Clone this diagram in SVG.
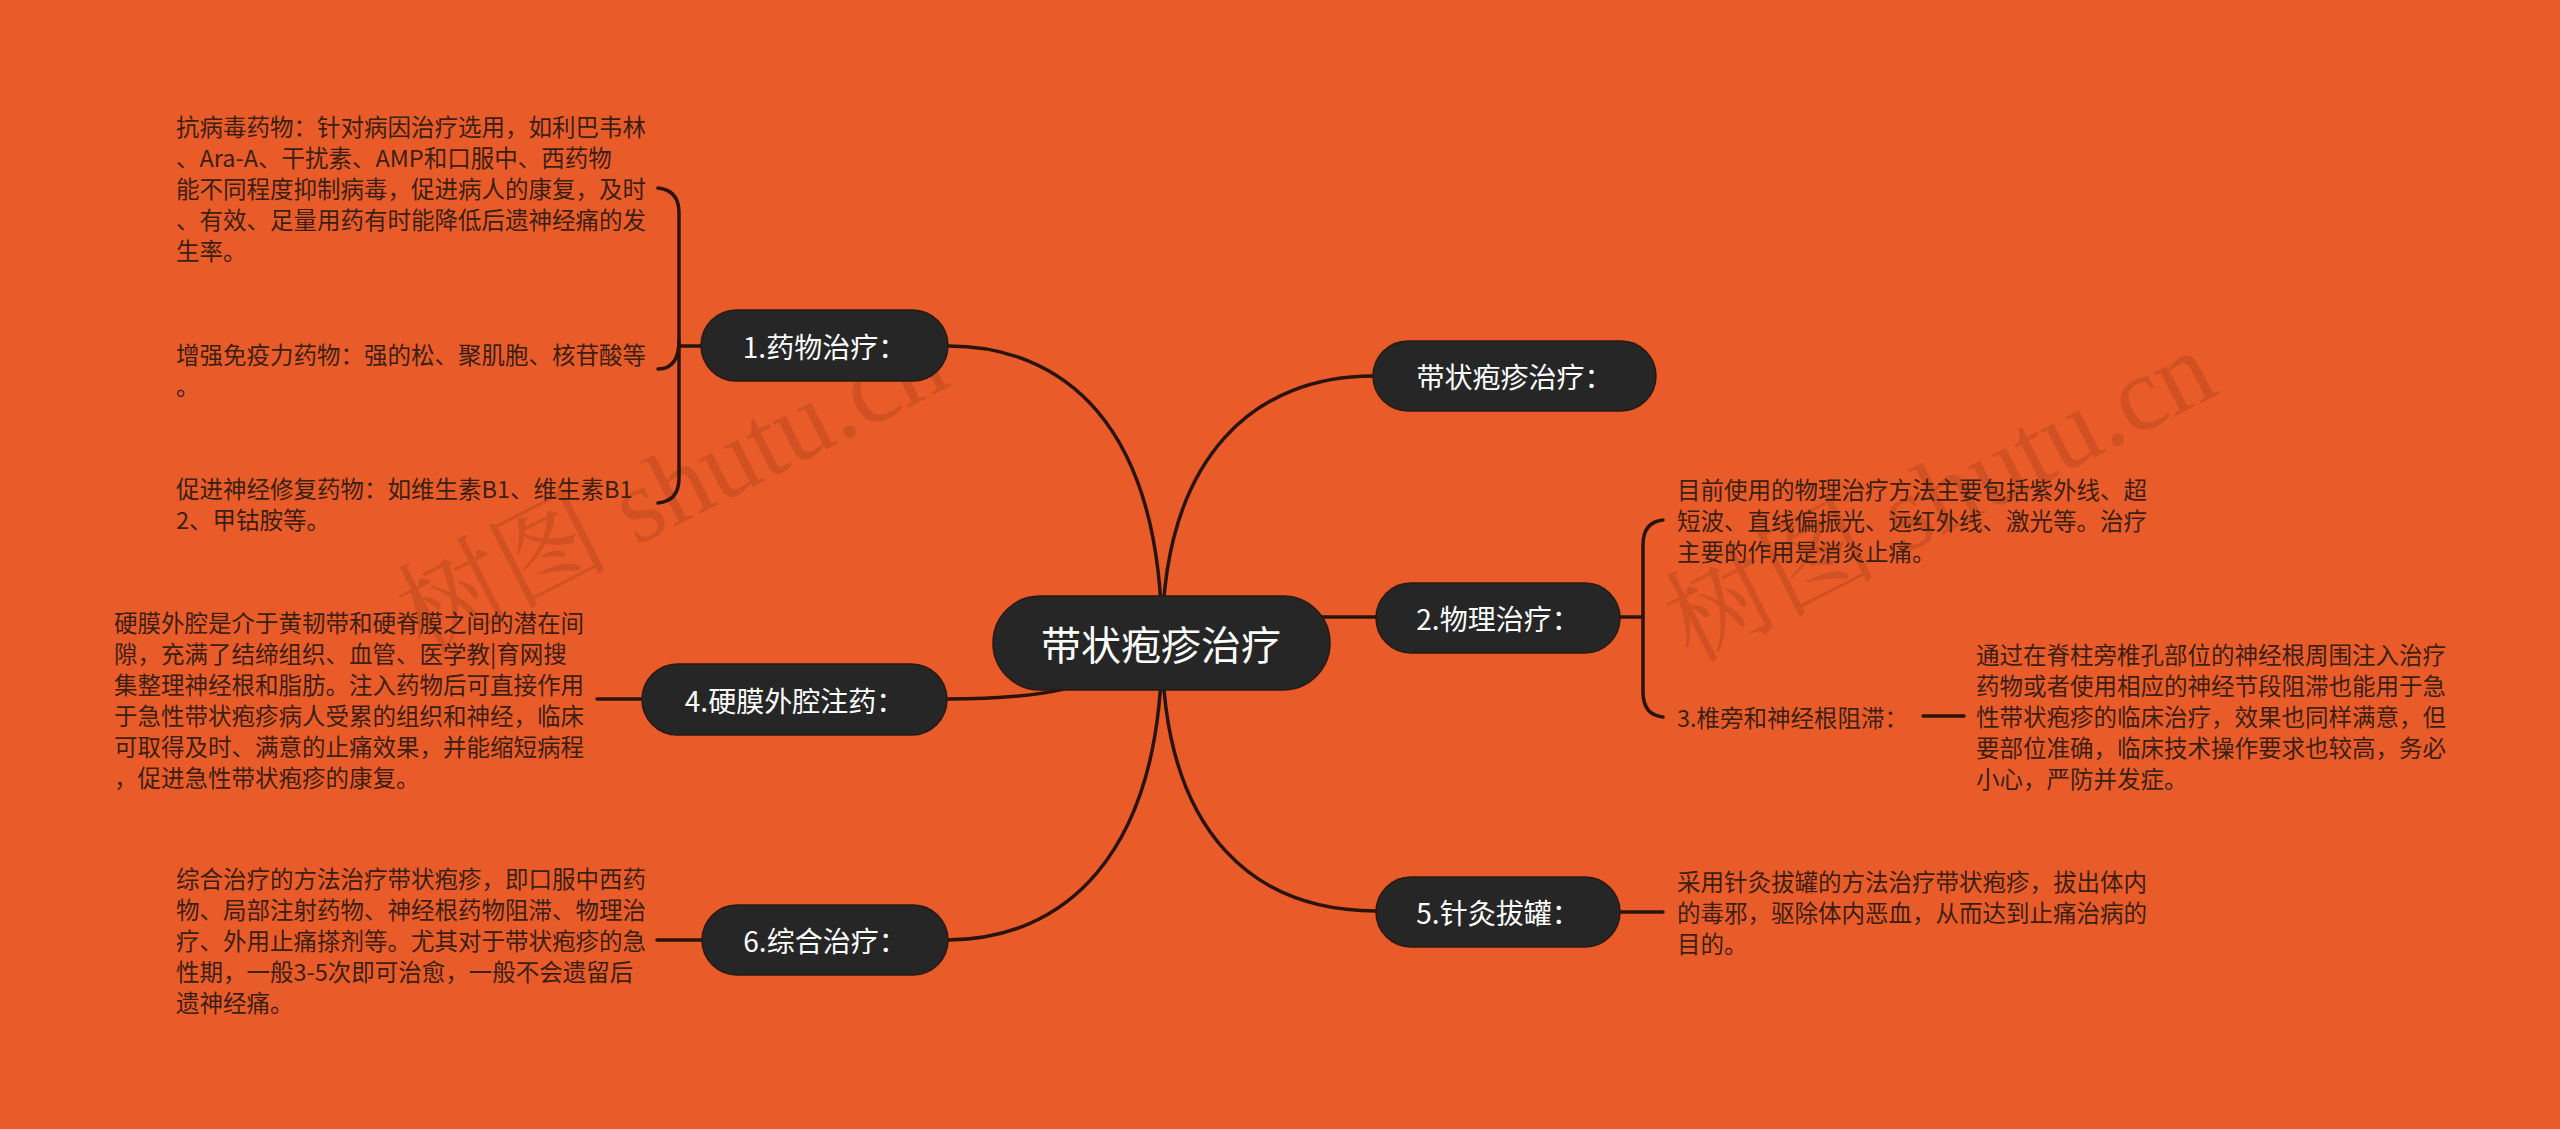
<svg xmlns="http://www.w3.org/2000/svg" width="2560" height="1129" viewBox="0 0 2560 1129">
<style>
.bg{fill:#E95C29}
.node{fill:#262626;stroke:#2a1a12;stroke-width:1.5}
.nt{font-family:"Noto Sans CJK SC","Noto Sans",sans-serif;font-size:28px;fill:#ffffff;text-anchor:middle;dominant-baseline:central}
.ct{font-family:"Noto Sans CJK SC","Noto Sans",sans-serif;font-size:40px;fill:#ffffff;text-anchor:middle;dominant-baseline:central}
.tx{font-family:"Noto Sans CJK SC","Noto Sans",sans-serif;font-size:23.5px;fill:#3b1f12;dominant-baseline:central}
.ln{fill:none;stroke:#2a140a;stroke-width:3.5;stroke-linecap:round}
.wm{font-family:"Liberation Serif","Noto Serif CJK SC","Noto Sans CJK SC",serif;font-size:106px;fill:#9a3512;opacity:0.28}
</style>
<rect class="bg" x="0" y="0" width="2560" height="1129"/>
<g id="watermarks">
<text class="wm" transform="translate(672,488) rotate(-27)" text-anchor="middle" dominant-baseline="central">树图 shutu.cn</text>
<text class="wm" transform="translate(1940,496) rotate(-27)" text-anchor="middle" dominant-baseline="central">树图 shutu.cn</text>
</g>
<g id="connectors">
<path class="ln" d="M1162,643 C1162,420 1060,346 948,346"/>
<path class="ln" d="M1162,643 C1162,450 1260,376 1373,376"/>
<path class="ln" d="M1162,617 H1376"/>
<path class="ln" d="M1162,643 C1100,690 1040,699 947,699"/>
<path class="ln" d="M1162,643 C1162,860 1060,940 947,940"/>
<path class="ln" d="M1162,643 C1162,840 1260,911 1376,911"/>
<path class="ln" d="M658,188 Q679,190 679,213 L679,478 Q679,501 658,503"/>
<path class="ln" d="M679,340 Q679,369 658,369"/>
<path class="ln" d="M679,346 H702"/>
<path class="ln" d="M597,699 H642"/>
<path class="ln" d="M657,940 H702"/>
<path class="ln" d="M1663,520 Q1643,522 1643,545 L1643,692 Q1643,715 1663,717"/>
<path class="ln" d="M1620,617 H1643"/>
<path class="ln" d="M1923,716 H1964"/>
<path class="ln" d="M1620,912 H1663"/>
</g>
<g id="center">
<rect class="node" x="993" y="596" width="337" height="94" rx="47"/>
<text class="ct" x="1161" y="643">带状疱疹治疗</text>
</g>
<g id="n1">
<rect class="node" x="701" y="310" width="247" height="71" rx="35.5"/>
<text class="nt" x="824.5" y="345.5">1.药物治疗：</text>
</g>
<g id="n0">
<rect class="node" x="1373" y="341" width="283" height="70" rx="35"/>
<text class="nt" x="1514.5" y="376">带状疱疹治疗：</text>
</g>
<g id="n2">
<rect class="node" x="1376" y="583" width="244" height="70" rx="35"/>
<text class="nt" x="1498" y="618">2.物理治疗：</text>
</g>
<g id="n4">
<rect class="node" x="642" y="664" width="305" height="71" rx="35.5"/>
<text class="nt" x="794.5" y="699.5">4.硬膜外腔注药：</text>
</g>
<g id="n5">
<rect class="node" x="1376" y="877" width="244" height="70" rx="35"/>
<text class="nt" x="1498" y="912">5.针灸拔罐：</text>
</g>
<g id="n6">
<rect class="node" x="702" y="905" width="246" height="70" rx="35"/>
<text class="nt" x="825" y="940">6.综合治疗：</text>
</g>
<g id="t1a">
<text class="tx" x="176" y="126">抗病毒药物：针对病因治疗选用，如利巴韦林</text>
<text class="tx" x="176" y="157">、Ara-A、干扰素、AMP和口服中、西药物</text>
<text class="tx" x="176" y="188">能不同程度抑制病毒，促进病人的康复，及时</text>
<text class="tx" x="176" y="219">、有效、足量用药有时能降低后遗神经痛的发</text>
<text class="tx" x="176" y="250">生率。</text>
</g>
<g id="t1b">
<text class="tx" x="176" y="353.5">增强免疫力药物：强的松、聚肌胞、核苷酸等</text>
<text class="tx" x="176" y="384.5">。</text>
</g>
<g id="t1c">
<text class="tx" x="176" y="487.5">促进神经修复药物：如维生素B1、维生素B1</text>
<text class="tx" x="176" y="518.5">2、甲钴胺等。</text>
</g>
<g id="t4">
<text class="tx" x="114" y="621.5">硬膜外腔是介于黄韧带和硬脊膜之间的潜在间</text>
<text class="tx" x="114" y="652.5">隙，充满了结缔组织、血管、医学教|育网搜</text>
<text class="tx" x="114" y="683.5">集整理神经根和脂肪。注入药物后可直接作用</text>
<text class="tx" x="114" y="714.5">于急性带状疱疹病人受累的组织和神经，临床</text>
<text class="tx" x="114" y="745.5">可取得及时、满意的止痛效果，并能缩短病程</text>
<text class="tx" x="114" y="776.5">，促进急性带状疱疹的康复。</text>
</g>
<g id="t6">
<text class="tx" x="176" y="878">综合治疗的方法治疗带状疱疹，即口服中西药</text>
<text class="tx" x="176" y="909">物、局部注射药物、神经根药物阻滞、物理治</text>
<text class="tx" x="176" y="940">疗、外用止痛搽剂等。尤其对于带状疱疹的急</text>
<text class="tx" x="176" y="971">性期，一般3-5次即可治愈，一般不会遗留后</text>
<text class="tx" x="176" y="1002">遗神经痛。</text>
</g>
<g id="t2a">
<text class="tx" x="1677" y="489">目前使用的物理治疗方法主要包括紫外线、超</text>
<text class="tx" x="1677" y="520">短波、直线偏振光、远红外线、激光等。治疗</text>
<text class="tx" x="1677" y="551">主要的作用是消炎止痛。</text>
</g>
<g id="n3">
<text class="tx" x="1677" y="717">3.椎旁和神经根阻滞：</text>
</g>
<g id="t3">
<text class="tx" x="1976" y="654">通过在脊柱旁椎孔部位的神经根周围注入治疗</text>
<text class="tx" x="1976" y="685">药物或者使用相应的神经节段阻滞也能用于急</text>
<text class="tx" x="1976" y="716">性带状疱疹的临床治疗，效果也同样满意，但</text>
<text class="tx" x="1976" y="747">要部位准确，临床技术操作要求也较高，务必</text>
<text class="tx" x="1976" y="778">小心，严防并发症。</text>
</g>
<g id="t5">
<text class="tx" x="1677" y="881">采用针灸拔罐的方法治疗带状疱疹，拔出体内</text>
<text class="tx" x="1677" y="912">的毒邪，驱除体内恶血，从而达到止痛治病的</text>
<text class="tx" x="1677" y="943">目的。</text>
</g>
</svg>
